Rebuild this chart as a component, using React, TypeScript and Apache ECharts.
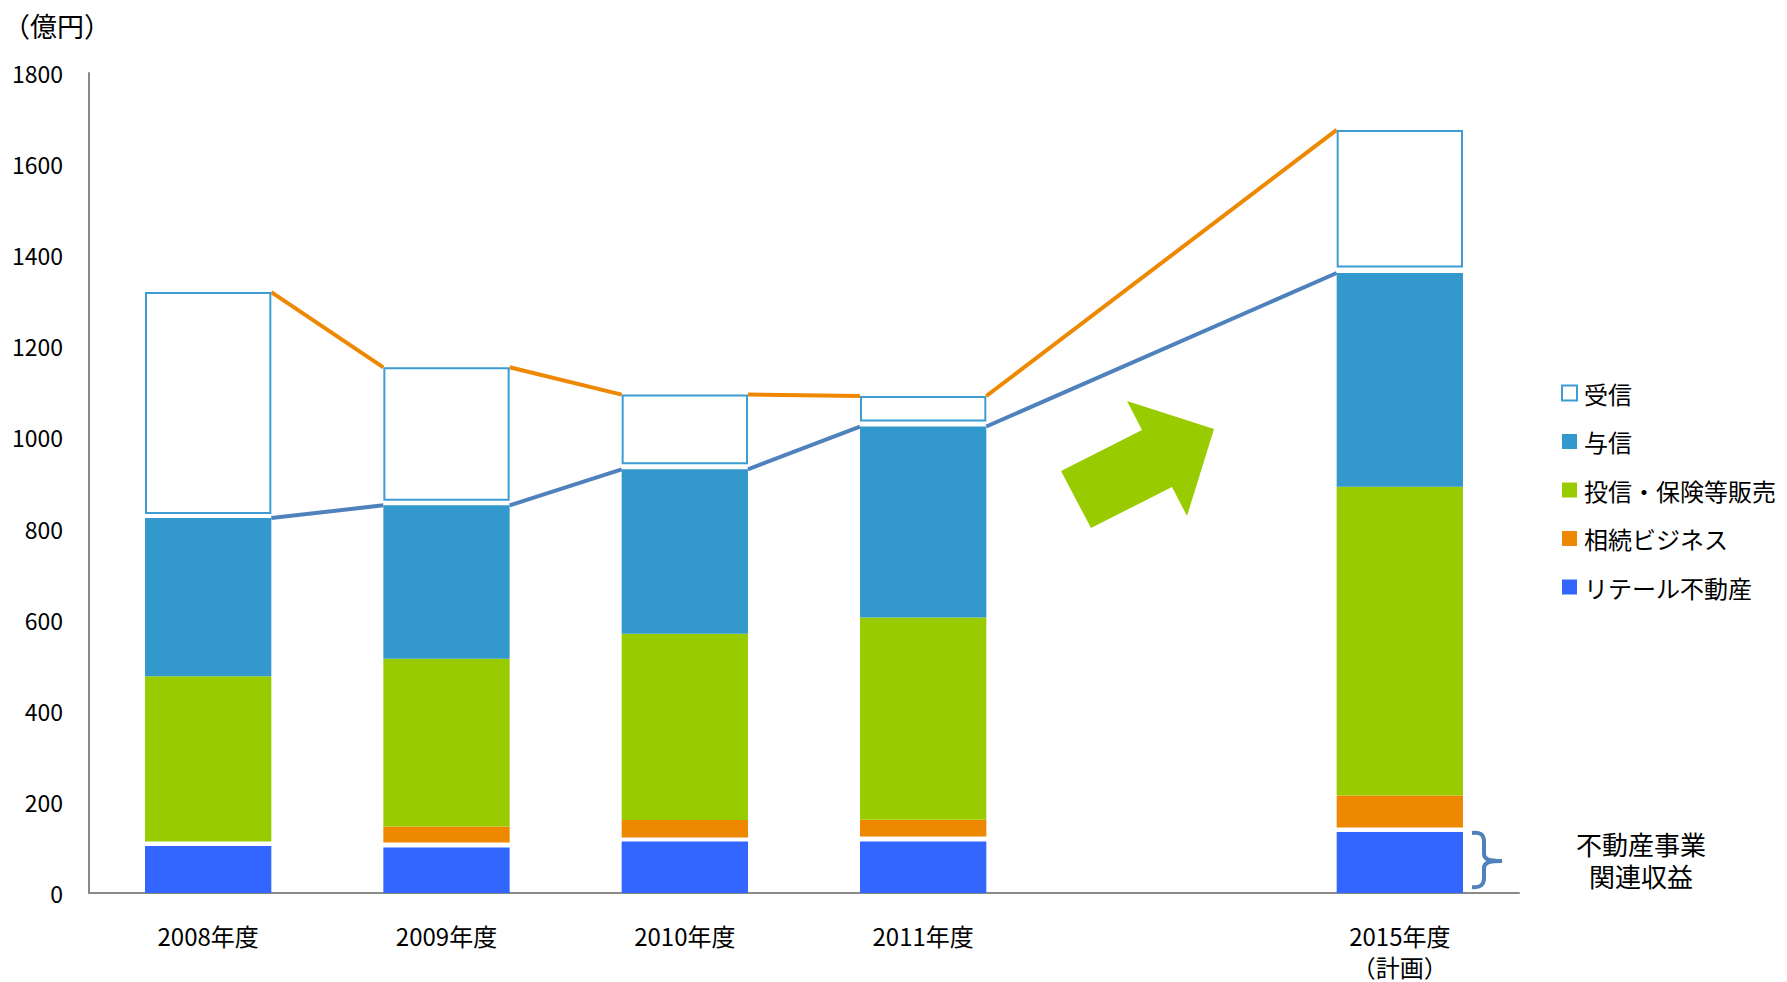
import React, { useEffect, useRef } from "react";
import * as echarts from "echarts";

const categories = ["2008年度", "2009年度", "2010年度", "2011年度", "", "2015年度\n（計画）"];
const retail = [103, 100, 113, 113, null, 134];
const gapLow = [10, 11, 9, 11, null, 10];
const souzoku = [0, 35, 38, 37, null, 70];
const toushin = [363, 368, 409, 444, null, 678];
const yoshin = [347, 337, 361, 419, null, 469];
const gapHigh = [9, 10, 11, 11, null, 12];
const jushin = [487, 293, 153, 56, null, 302];
const legendNames = ["受信", "与信", "投信・保険等販売", "相続ビジネス", "リテール不動産"];
const yTicks = { min: 0, max: 1800, interval: 200 };

const FONT = "'Noto Sans CJK JP', 'Noto Sans', sans-serif";
const BAR_W = 0.53;

let braceRegistered = false;
function registerBrace() {
  if (braceRegistered) return;
  const d =
    "M0,1 C8,0 12,2 12,10 L12,22 C12,27 16,29 30,29 C16,29 12,31 12,36 L12,46 C12,53 8,56 0,55";
  echarts.graphic.registerShape("brace", echarts.graphic.extendPath(d, {}));
  braceRegistered = true;
}

function buildConnectors(tops: (number | null)[]) {
  const out: number[][] = [];
  const idx: number[] = [];
  tops.forEach((v, i) => {
    if (v != null) idx.push(i);
  });
  for (let k = 0; k < idx.length - 1; k++) {
    const i = idx[k];
    const j = idx[k + 1];
    out.push([i, j, tops[i] as number, tops[j] as number]);
  }
  return out;
}

export default function App() {
  const ref = useRef<HTMLDivElement>(null);
  useEffect(() => {
    if (!ref.current) return;
    registerBrace();
    const chart = echarts.init(ref.current, undefined, { renderer: "svg" });

    const yoshinTop = categories.map((_, i) =>
      retail[i] == null
        ? null
        : (retail[i] as number) + (gapLow[i] as number) + (souzoku[i] as number) + (toushin[i] as number) + (yoshin[i] as number)
    );
    const totalTop = categories.map((_, i) =>
      yoshinTop[i] == null ? null : (yoshinTop[i] as number) + (gapHigh[i] as number) + (jushin[i] as number)
    );

    const connector = (color: string, data: number[][]) => ({
      type: "custom",
      silent: true,
      z: 1,
      encode: { x: [0, 1], y: [2, 3] },
      data,
      renderItem: (params: any, api: any) => {
        const i = api.value(0);
        const j = api.value(1);
        const a = api.value(2);
        const b = api.value(3);
        const p1 = api.coord([i, a]);
        const p2 = api.coord([j, b]);
        const hw = (api.size([1, 0])[0] * BAR_W) / 2;
        return {
          type: "line",
          shape: { x1: p1[0] + hw, y1: p1[1], x2: p2[0] - hw, y2: p2[1] },
          style: { stroke: color, lineWidth: 4, lineCap: "butt" },
        };
      },
    });

    const bar = (name: string, data: (number | null)[], itemStyle: any) => ({
      name,
      type: "bar",
      stack: "total",
      barWidth: "53%",
      data,
      itemStyle,
      z: 2,
      silent: true,
    });

    chart.setOption({
      animation: false,
      textStyle: { fontFamily: FONT },
      grid: { left: 89, right: 268, top: 73, bottom: 89, containLabel: false },
      legend: {
        data: legendNames,
        orient: "vertical",
        left: 1561,
        top: 381,
        padding: 0,
        itemWidth: 15,
        itemHeight: 15,
        itemGap: 24.5,
        icon: "rect",
        selectedMode: false,
        textStyle: { fontSize: 24, color: "#000", fontFamily: FONT, lineHeight: 24, padding: [0, 0, 0, 2] },
      },
      xAxis: {
        type: "category",
        data: categories,
        axisTick: { show: false },
        axisLine: { lineStyle: { color: "#898989", width: 2 } },
        axisLabel: { fontSize: 24, color: "#000", margin: 27, lineHeight: 31, fontFamily: FONT, interval: 0 },
      },
      yAxis: {
        type: "value",
        min: yTicks.min,
        max: yTicks.max,
        interval: yTicks.interval,
        splitLine: { show: false },
        axisTick: { show: false },
        axisLine: { show: true, lineStyle: { color: "#898989", width: 2 } },
        axisLabel: {
          fontSize: 23,
          color: "#000",
          margin: 26,
          fontFamily: FONT,
          formatter: (v: number) => String(v),
        },
      },
      series: [
        bar("リテール不動産", retail, { color: "#3366FF" }),
        bar("gapLow", gapLow, { color: "rgba(255,255,255,0)" }),
        bar("相続ビジネス", souzoku, { color: "#EE8800" }),
        bar("投信・保険等販売", toushin, { color: "#99CC00" }),
        bar("与信", yoshin, { color: "#3399CC" }),
        bar("gapHigh", gapHigh, { color: "rgba(255,255,255,0)" }),
        bar("受信", jushin, { color: "#FFFFFF", borderColor: "#3D9DD3", borderWidth: 2 }),
        connector("#4F81BD", buildConnectors(yoshinTop)),
        connector("#EE8800", buildConnectors(totalTop)),
      ],
      graphic: [
        {
          type: "text",
          x: 57,
          y: 25,
          style: {
            text: "（億円）",
            fontSize: 27,
            fill: "#000",
            fontFamily: FONT,
            align: "center",
            verticalAlign: "middle",
          },
        },
        {
          type: "polygon",
          shape: {
            points: [
              [1091, 528],
              [1061, 471],
              [1142, 430],
              [1127, 401],
              [1214, 429],
              [1187, 516],
              [1172, 487],
            ],
          },
          style: { fill: "#99CC00" },
        },
        {
          type: "brace",
          x: 1472,
          y: 832,
          scaleX: 1,
          scaleY: 1,
          style: { stroke: "#4F81BD", fill: "none", lineWidth: 4 },
        },
        {
          type: "text",
          x: 1641,
          y: 859,
          style: {
            text: "不動産事業\n関連収益",
            fontSize: 26,
            lineHeight: 32,
            fill: "#000",
            fontFamily: FONT,
            align: "center",
            verticalAlign: "middle",
          },
        },
      ],
    });
    return () => chart.dispose();
  }, []);
  return (
    <div
      ref={ref}
      style={{ position: "fixed", left: 0, top: 0, width: 1787, height: 982, background: "#fff" }}
    />
  );
}
